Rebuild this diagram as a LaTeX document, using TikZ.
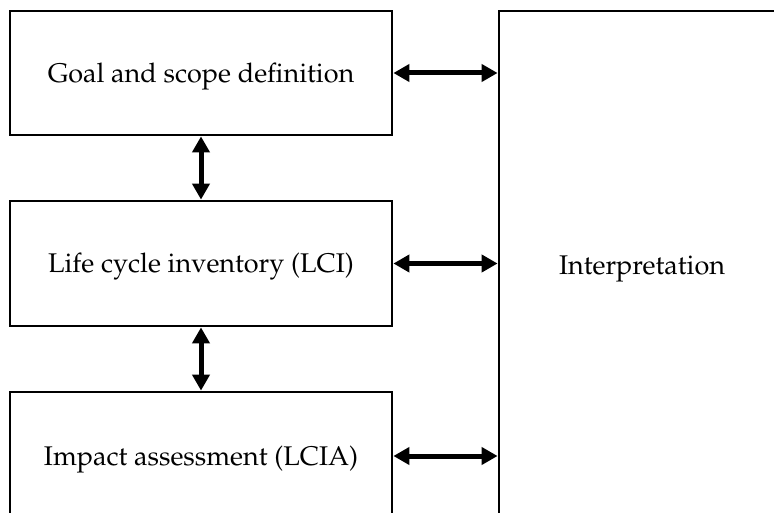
\documentclass[tikz,border=0pt]{standalone}
\usepackage[T1]{fontenc}
\usepackage{mathpazo}
\usetikzlibrary{arrows.meta}
\begin{document}
\begin{tikzpicture}[x=1pt,y=-1pt,
  stage/.style={draw=black,line width=2.8pt,fill=white,minimum width=382pt,
    inner sep=0pt,text height=18.6pt,text depth=0pt,font=\fontsize{27}{32}\selectfont},
  link/.style={line width=5pt,{Triangle[length=16pt,width=17pt]}-{Triangle[length=16pt,width=17pt]}}]
  \useasboundingbox (0,0) rectangle (774,513);
  \clip (0,0) rectangle (774,513);
  % LCA phases on the left
  \node[stage,minimum height=124pt] (goal) at (201,73) {Goal and scope definition};
  \node[stage,minimum height=125pt] (lci)  at (201,263.5) {Life cycle inventory (LCI)};
  \node[stage,minimum height=128pt] (lcia) at (201,456) {Impact assessment (LCIA)};
  % interpretation spans all phases
  \node[stage,minimum width=286pt,minimum height=509pt] (interp) at (642,265.5) {Interpretation};
  % two-way links
  \draw[link] (goal.south) -- (lci.north);
  \draw[link] (lci.south) -- (lcia.north);
  \draw[link] (goal.east) -- (goal.east -| interp.west);
  \draw[link] (lci.east) -- (lci.east -| interp.west);
  \draw[link] (lcia.east) -- (lcia.east -| interp.west);
\end{tikzpicture}
\end{document}
